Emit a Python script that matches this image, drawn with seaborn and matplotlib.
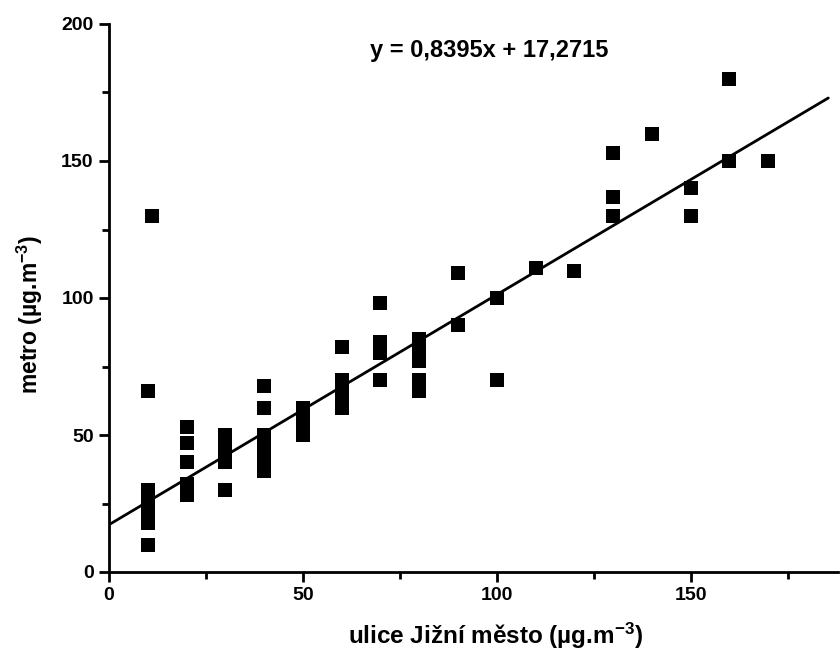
import matplotlib
matplotlib.use("Agg")
import matplotlib.pyplot as plt
import seaborn as sns
import pandas as pd
from matplotlib.ticker import MultipleLocator

# ---- data ----
x_street = [11, 10, 10, 10, 10, 10, 10, 10, 10, 10,
            20, 20, 20, 20, 20, 20,
            30, 30, 30, 30, 30, 30,
            40, 40, 40, 40, 40, 40, 40, 40,
            50, 50, 50, 50, 50,
            60, 60, 60, 60, 60, 60,
            70, 70, 70, 70, 70,
            80, 80, 80, 80, 80, 80, 80,
            90, 90,
            100, 100,
            110, 120,
            130, 130, 130,
            140,
            150, 150,
            160, 160,
            170]
y_metro = [130, 66, 30, 28, 26, 24, 22, 20, 18, 10,
           53, 47, 40, 32, 30, 28,
           50, 47, 45, 43, 40, 30,
           68, 60, 50, 48, 45, 42, 40, 37,
           60, 57, 55, 52, 50,
           82, 70, 68, 65, 62, 60,
           98, 84, 82, 80, 70,
           85, 83, 80, 77, 70, 68, 66,
           109, 90,
           100, 70,
           111, 110,
           153, 137, 130,
           160,
           140, 130,
           180, 150,
           150]

slope = 0.8395
intercept = 17.2715
fit_x = [0, 185.5]
fit_y = [intercept + slope * v for v in fit_x]

x_ticks = [0, 50, 100, 150]
y_ticks = [0, 50, 100, 150, 200]
equation_text = "y = 0,8395x + 17,2715"
x_label = r"ulice Jižní město (µg.m$^{\mathbf{-3}}$)"
y_label = r"metro (µg.m$^{\mathbf{-3}}$)"

# ---- plotting ----
sns.set_style("ticks")
plt.rcParams['font.family'] = ['Liberation Sans', 'DejaVu Sans']
plt.rcParams['font.weight'] = 'bold'
plt.rcParams['text.color'] = 'black'
plt.rcParams['axes.labelcolor'] = 'black'
plt.rcParams['mathtext.fontset'] = 'custom'
plt.rcParams['mathtext.rm'] = 'Liberation Sans:bold'
plt.rcParams['mathtext.bf'] = 'Liberation Sans:bold'
plt.rcParams['mathtext.it'] = 'Liberation Sans:bold'

fig = plt.figure(figsize=(8.4, 6.56), dpi=100)
ax = fig.add_axes([109 / 840, 1 - 572 / 656, 729 / 840, 548 / 656])

df = pd.DataFrame({"x": x_street, "y": y_metro})
sns.scatterplot(data=df, x="x", y="y", marker="s", s=95, color="black",
                linewidth=0, ax=ax, zorder=3)
line_df = pd.DataFrame({"x": fit_x, "y": fit_y})
sns.lineplot(data=line_df, x="x", y="y", color="black", linewidth=2, ax=ax,
             zorder=2)

ax.set_xlim(0, 188)
ax.set_ylim(0, 200)
ax.set_xticks(x_ticks)
ax.set_yticks(y_ticks)
ax.xaxis.set_minor_locator(MultipleLocator(25))
ax.yaxis.set_minor_locator(MultipleLocator(25))
ax.tick_params(which="major", direction="out", length=7, width=2,
               labelsize=14, colors="black", pad=4)
ax.tick_params(which="minor", direction="out", length=5, width=2,
               colors="black")
for lab in ax.get_xticklabels() + ax.get_yticklabels():
    lab.set_fontweight("bold")

sns.despine(ax=ax)
for sp in ["left", "bottom"]:
    ax.spines[sp].set_linewidth(2)
    ax.spines[sp].set_color("black")

ax.set_xlabel(x_label, fontsize=17.5, fontweight="bold")
ax.set_ylabel(y_label, fontsize=16.5, fontweight="bold")
ax.xaxis.set_label_coords(0.53, -0.116, transform=ax.transAxes)
ax.yaxis.set_label_coords(-0.108, 0.469, transform=ax.transAxes)
ax.xaxis.label.set_va("center")
ax.yaxis.label.set_va("center")
ax.text(98, 190.5, equation_text, fontsize=17, fontweight="bold",
        ha="center", va="center", color="black")

fig.savefig("out.png", dpi=100)
